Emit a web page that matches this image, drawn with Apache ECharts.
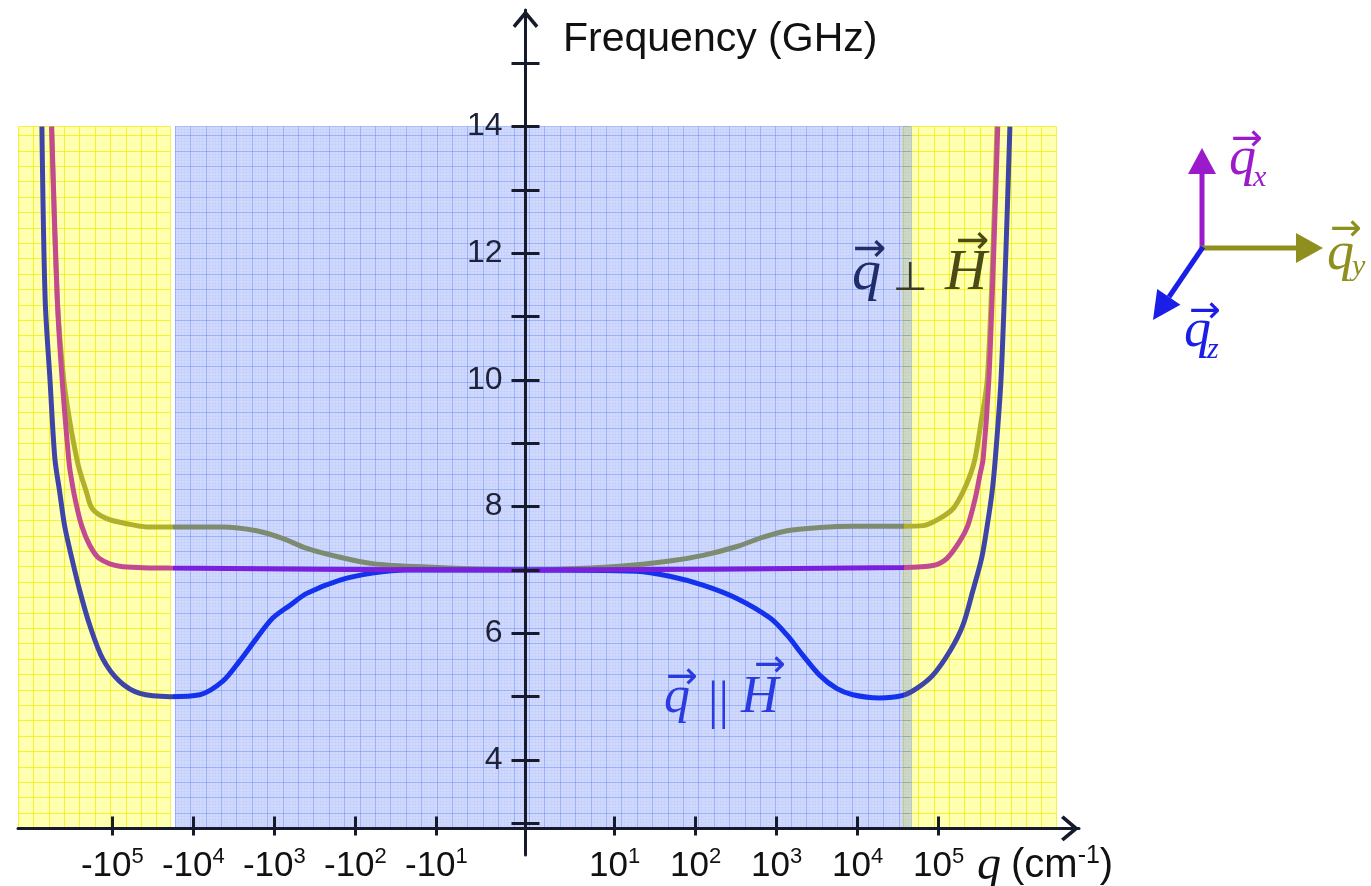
<!doctype html>
<html>
<head>
<meta charset="utf-8">
<script src="https://cdn.jsdelivr.net/npm/echarts@6.0.0/dist/echarts.min.js"></script>
<style>
html, body { margin: 0; padding: 0; background: #fff; }
#chart { width: 1371px; height: 886px; }
</style>
</head>
<body>
<div id="chart"></div>
<script>
// x axis is a symmetric log scale: +-10^k sits at +-(k + 0.1), q = 0 in the middle
var xTickPos  = [-5.1, -4.1, -3.1, -2.1, -1.1, 1.1, 2.1, 3.1, 4.1, 5.1];
var xTickSign = ['-', '-', '-', '-', '-', '', '', '', '', ''];
var xTickExp  = ['5', '4', '3', '2', '1', '1', '2', '3', '4', '5'];
var yTicks  = [3, 4, 5, 6, 7, 8, 9, 10, 11, 12, 13, 14, 15];
var yLabels = [4, 6, 8, 10, 12, 14];

// q_y (olive)
var qyPos  = [-5.85, -5.78, -5.70, -5.62, -5.54, -5.50, -5.42, -5.35, -5.17, -4.92, -4.68, -4.35, -3.74, -3.32, -3.00, -2.70, -2.29, -1.89, -1.27, 0,
              1.16, 1.78, 2.19, 2.61, 2.89, 3.23, 3.63, 4.04, 4.66, 4.91, 5.11, 5.28, 5.40, 5.49, 5.55, 5.62, 5.70, 5.77, 5.82];
var qyFreq = [14, 11.28, 10.0, 9.3, 8.76, 8.55, 8.23, 7.97, 7.81, 7.73, 7.68, 7.68, 7.68, 7.62, 7.50, 7.34, 7.20, 7.10, 7.05, 7.0,
              7.06, 7.14, 7.23, 7.37, 7.50, 7.62, 7.67, 7.69, 7.69, 7.70, 7.81, 7.97, 8.23, 8.5, 8.76, 9.3, 10.0, 12.0, 14.0];
// q_z (blue)
var qzPos  = [-5.97, -5.93, -5.87, -5.81, -5.75, -5.69, -5.60, -5.50, -5.38, -5.22, -5.01, -4.76, -4.39, -4.02, -3.74, -3.53, -3.32, -3.12, -2.91, -2.70, -2.29, -1.89, -1.47, 0,
              1.37, 1.78, 2.19, 2.61, 3.02, 3.23, 3.42, 3.63, 3.84, 4.04, 4.37, 4.66, 4.83, 5.03, 5.24, 5.40, 5.52, 5.63, 5.70, 5.76, 5.80, 5.87, 5.93, 5.98];
var qzFreq = [14, 11.28, 10.0, 8.76, 8.23, 7.70, 7.18, 6.66, 6.13, 5.60, 5.24, 5.05, 5.0, 5.03, 5.24, 5.56, 5.92, 6.24, 6.44, 6.63, 6.84, 6.95, 7.0, 7.0,
              6.98, 6.90, 6.76, 6.55, 6.24, 5.97, 5.66, 5.34, 5.13, 5.03, 4.98, 5.02, 5.13, 5.34, 5.72, 6.13, 6.66, 7.18, 7.70, 8.23, 8.76, 10.0, 12.0, 14.0];
// q_x (purple)
var qxPos  = [-5.85, -5.78, -5.72, -5.64, -5.62, -5.56, -5.48, -5.38, -5.26, -5.01, -4.39, 0,
              4.66, 5.03, 5.20, 5.36, 5.46, 5.55, 5.61, 5.65, 5.72, 5.78, 5.83];
var qxFreq = [14, 11.28, 10.0, 8.76, 8.55, 8.12, 7.70, 7.39, 7.18, 7.06, 7.03, 7.0,
              7.04, 7.07, 7.18, 7.45, 7.70, 8.12, 8.5, 8.76, 10.0, 12.0, 14.0];

var chart = echarts.init(document.getElementById('chart'));

function pairs(xs, ys) {
	return xs.map(function (x, i) { return [x, ys[i]]; });
}

var chevron = 'path://M0,12 L10,0 L20,12 L18,14 L10,4.5 L2,14 Z';
var axisColor = '#151a2c';
var cell = 15.4;

// background panels: [left, width, fill, grid line colour, z]
var panels = [
	[18, 152, '#ffffb0', 'rgba(238,238,0,0.7)', 0],
	[903, 153, '#ffffb0', 'rgba(238,238,0,0.7)', 0],
	[175, 736, 'rgba(90,125,245,0.29)', 'rgba(90,125,248,0.42)', 2]
];
var panelTop = 126.5, panelH = 702;

var grids = [{ left: 18, right: 292, top: 10, bottom: 31, containLabel: false, outerBoundsMode: 'none' }];
var xAxes = [], yAxes = [];
panels.forEach(function (p, i) {
	grids.push({ left: p[0], top: panelTop, width: p[1], height: panelH, show: true,
		backgroundColor: p[2], borderWidth: 0, z: p[4], containLabel: false, outerBoundsMode: 'none' });
	var common = {
		gridIndex: i + 1, type: 'value', min: 0, interval: 1, z: p[4] + 1,
		axisLine: { show: false }, axisTick: { show: false }, axisLabel: { show: false },
		splitLine: { show: true, lineStyle: { color: p[3], width: 1 } },
		minorTick: { show: false, splitNumber: 5 },
		minorSplitLine: { show: i === 2, lineStyle: { color: 'rgba(90,125,245,0.05)', width: 1 } }
	};
	xAxes.push(Object.assign({ max: p[1] / cell }, common));
	yAxes.push(Object.assign({ max: panelH / cell }, common));
});

var xMain = {
	gridIndex: 0, type: 'value', min: -6.265, max: 6.833, position: 'bottom', offset: -26.6, z: 6,
	splitLine: { show: false },
	axisLine: { show: true, onZero: false, symbol: ['none', chevron], symbolSize: [26, 18], symbolOffset: [0, -9],
		lineStyle: { color: axisColor, width: 3 } },
	axisTick: { show: true, length: 7, customValues: xTickPos, lineStyle: { color: axisColor, width: 3 } },
	axisLabel: {
		show: true, margin: 18, customValues: xTickPos, color: '#111',
		formatter: function (v) {
			var i = xTickPos.indexOf(v);
			return '{b|' + xTickSign[i] + '10}{s|' + xTickExp[i] + '}';
		},
		rich: {
			b: { fontSize: 35, fontFamily: 'Liberation Sans', lineHeight: 40, color: '#111' },
			s: { fontSize: 22, fontFamily: 'Liberation Sans', lineHeight: 14, verticalAlign: 'top', color: '#111' }
		}
	}
};
var xTicksUp = {
	gridIndex: 0, type: 'value', min: -6.265, max: 6.833, position: 'bottom', offset: -26.6, z: 6,
	splitLine: { show: false }, axisLine: { show: false, onZero: false }, axisLabel: { show: false },
	axisTick: { show: true, inside: true, length: 12, customValues: xTickPos, lineStyle: { color: axisColor, width: 3 } }
};
// y axis sits on q = 0 (507.5 px right of the grid's left edge)
var yMain = {
	gridIndex: 0, type: 'value', min: 2.5, max: 15.84, position: 'left', offset: -507.5, z: 6,
	splitLine: { show: false },
	axisLine: { show: true, onZero: false, symbol: ['none', chevron], symbolSize: [26, 18], symbolOffset: [0, -9],
		lineStyle: { color: axisColor, width: 3 } },
	axisTick: { show: true, length: 14, customValues: yTicks, lineStyle: { color: axisColor, width: 3 } },
	axisLabel: { show: true, margin: 23, customValues: yLabels, color: '#1d2238',
		fontSize: 32, fontFamily: 'Liberation Sans' }
};
var yTicksRight = {
	gridIndex: 0, type: 'value', min: 2.5, max: 15.84, position: 'left', offset: -507.5, z: 6,
	splitLine: { show: false }, axisLabel: { show: false },
	axisLine: { show: false, onZero: false },
	axisTick: { show: true, inside: true, length: 14, customValues: yTicks, lineStyle: { color: axisColor, width: 3 } }
};

xAxes = [xMain, xTicksUp].concat(xAxes);
yAxes = [yMain, yTicksRight].concat(yAxes);

var outerCol = ['#b1b02c', '#3e45a6', '#c24b90'];
var innerCol = ['#7d8b70', '#1432ee', '#7a1fdc'];
var curves = [pairs(qyPos, qyFreq), pairs(qzPos, qzFreq), pairs(qxPos, qxFreq)];

var series = curves.map(function (d) {
	return {
		type: 'line', xAxisIndex: 0, yAxisIndex: 0, data: d, z: 4,
		smooth: 0.3, showSymbol: false, silent: true,
		lineStyle: { width: 5 }
	};
});
var visualMap = curves.map(function (d, i) {
	return {
		type: 'piecewise', show: false, seriesIndex: i, dimension: 0,
		pieces: [
			{ lt: -4.35, color: outerCol[i] },
			{ gte: -4.35, lt: 4.67, color: innerCol[i] },
			{ gte: 4.67, color: outerCol[i] }
		]
	};
});

function txt(s, x, y, font, fill, align) {
	return { type: 'text', x: x, y: y, z: 10, silent: true,
		style: { text: s, font: font, fill: fill, align: align || 'left', verticalAlign: 'middle',
			textAlign: align || 'left', textVerticalAlign: 'middle' } };
}
var arrowFont = function (n) { return n + 'px "DejaVu Sans"'; };

var purple = '#9b1bcc', olive = '#8f8f20', blue = '#1a1ee6';
var graphics = [
	txt('Frequency (GHz)', 563, 40, '41px "Liberation Sans"', '#111'),
	{ type: 'text', x: 977, y: 866, z: 10, silent: true,
		style: { text: '{q|q}{t|(cm}{s|-1}{t|)}', verticalAlign: 'middle', textVerticalAlign: 'middle',
			rich: {
				q: { fontSize: 48, fontFamily: 'Liberation Serif', fontStyle: 'italic', lineHeight: 44, fill: '#111', padding: [0, 10, 0, 0] },
				t: { fontSize: 40, fontFamily: 'Liberation Sans', lineHeight: 44, fill: '#111' },
				s: { fontSize: 25, fontFamily: 'Liberation Sans', lineHeight: 16, verticalAlign: 'top', fill: '#111' }
			} } },
	// q perp H
	txt('q', 852, 274, 'italic 58px "Liberation Serif"', '#1f2d6b'),
	txt('\u2192', 853, 251, arrowFont(40), '#1f2d6b'),
	txt('\u22A5', 893, 280, arrowFont(40), '#3a3a24'),
	txt('H', 945, 274, 'italic 58px "Liberation Serif"', '#4a4a12'),
	txt('\u2192', 956, 243, arrowFont(40), '#4a4a12'),
	// q parallel H
	txt('q', 664, 698, 'italic 52px "Liberation Serif"', '#2a3ce0'),
	txt('\u2192', 666, 678, arrowFont(38), '#2a3ce0'),
	txt('||', 708, 704, '52px "Liberation Serif"', '#2a3ce0'),
	txt('H', 741, 698, 'italic 52px "Liberation Serif"', '#2a3ce0'),
	txt('\u2192', 754, 666, arrowFont(38), '#2a3ce0'),
	// coordinate glyph
	{ type: 'line', z: 10, silent: true, shape: { x1: 1202, y1: 250, x2: 1202, y2: 172 }, style: { stroke: purple, lineWidth: 5 } },
	{ type: 'polygon', z: 10, silent: true, shape: { points: [[1188, 174], [1216, 174], [1202, 148]] }, style: { fill: purple } },
	{ type: 'line', z: 10, silent: true, shape: { x1: 1200, y1: 248, x2: 1298, y2: 248 }, style: { stroke: olive, lineWidth: 5 } },
	{ type: 'polygon', z: 10, silent: true, shape: { points: [[1296, 233], [1296, 263], [1323, 248]] }, style: { fill: olive } },
	{ type: 'line', z: 10, silent: true, shape: { x1: 1203, y1: 247, x2: 1169, y2: 297 }, style: { stroke: blue, lineWidth: 5 } },
	{ type: 'polygon', z: 10, silent: true, shape: { points: [[1180.4, 304.7], [1157.2, 288.9], [1153, 320]] }, style: { fill: blue } },
	txt('q', 1229, 160, 'italic 54px "Liberation Serif"', purple),
	txt('x', 1253, 178, 'italic 30px "Liberation Serif"', purple),
	txt('\u2192', 1231, 140, arrowFont(38), purple),
	txt('q', 1327, 255, 'italic 54px "Liberation Serif"', olive),
	txt('y', 1352, 267, 'italic 30px "Liberation Serif"', olive),
	txt('\u2192', 1330, 230, arrowFont(38), olive),
	txt('q', 1184, 332, 'italic 54px "Liberation Serif"', blue),
	txt('z', 1207, 350, 'italic 30px "Liberation Serif"', blue),
	txt('\u2192', 1189, 312, arrowFont(38), blue)
];

chart.setOption({
	animation: false,
	backgroundColor: '#fff',
	grid: grids,
	xAxis: xAxes,
	yAxis: yAxes,
	visualMap: visualMap,
	series: series,
	graphic: { elements: graphics }
});
</script>
</body>
</html>
